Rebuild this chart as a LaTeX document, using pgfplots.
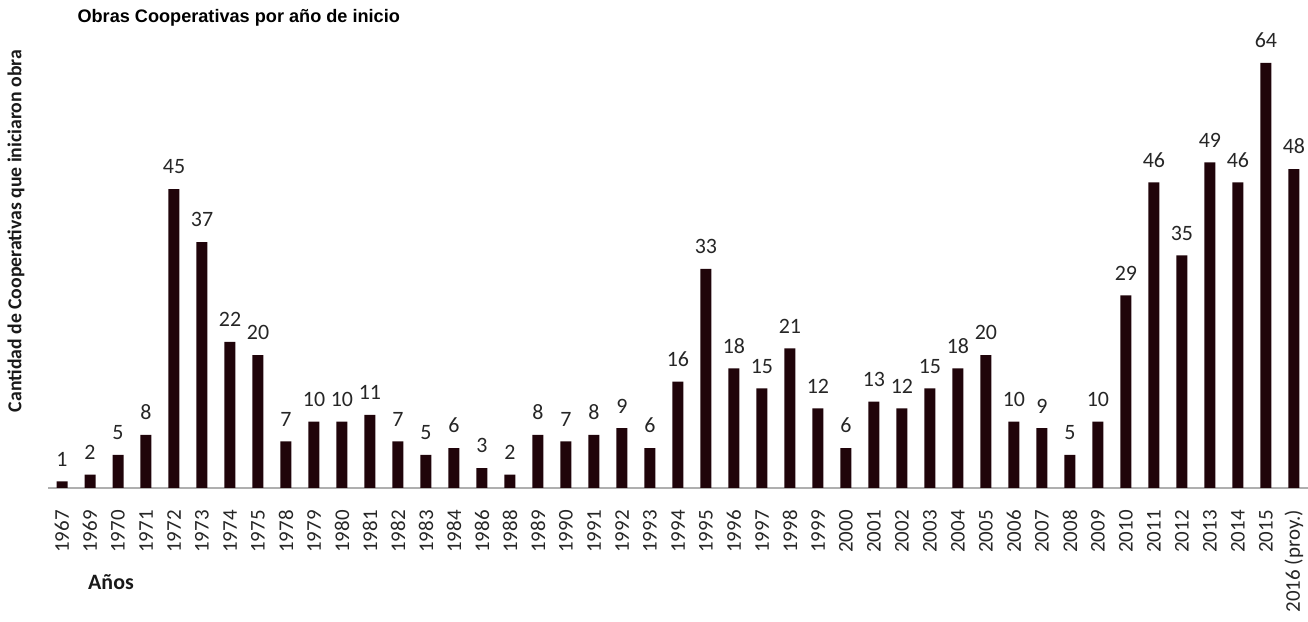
\documentclass[border=0pt]{standalone}
\usepackage{pgfplots}
\pgfplotsset{compat=1.18}
\usepackage{fontspec}
\setmainfont{Carlito}
\newfontfamily\titlefont{Liberation Sans}
\definecolor{barcol}{RGB}{32,4,10}
\definecolor{axisgray}{RGB}{175,175,175}

\begin{document}
\begin{tikzpicture}[x=1bp,y=1bp]
\useasboundingbox (0,0) rectangle (1308,622);

% Title and axis titles
\node[anchor=west, font=\titlefont\bfseries\fontsize{18.2}{21}\selectfont] at (74,604) {Obras Cooperativas por año de inicio};
\node[rotate=90, font=\bfseries\fontsize{19.8}{23}\selectfont, text=black!90] at (16,391) {Cantidad de Cooperativas que iniciaron obra};
\node[anchor=west, inner sep=0pt, font=\bfseries\fontsize{22}{25}\selectfont, text=black!90] at (88,40) {Años};

\begin{axis}[
  at={(48bp,134bp)}, anchor=south west,
  scale only axis, width=1260bp, height=465bp,
  xmin=-0.5, xmax=44.5, ymin=0, ymax=70,
  axis y line=none,
  axis x line*=bottom,
  x axis line style={draw=axisgray, line width=2.5bp, -},
  xtick=data,
  xticklabels={1967,1969,1970,1971,1972,1973,1974,1975,1978,1979,1980,1981,1982,1983,1984,1986,1988,1989,1990,1991,1992,1993,1994,1995,1996,1997,1998,1999,2000,2001,2002,2003,2004,2005,2006,2007,2008,2009,2010,2011,2012,2013,2014,2015,2016 (proy.)},
  major tick length=0pt,
  xticklabel shift=22bp,
  xticklabel style={rotate=90, anchor=east, inner sep=0pt, font=\fontsize{21}{23}\selectfont, text=black!85},
  ybar, bar width=11bp,
  clip=false,
  /pgf/number format/assume math mode=true,
  nodes near coords,
  every node near coord/.append style={font=\fontsize{22}{25}\selectfont, text=black!85, inner sep=0pt, yshift=15bp, anchor=south},
]
\addplot[fill=barcol, draw=none, bar shift=0pt] coordinates {
 (0,1) (1,2) (2,5) (3,8) (4,45) (5,37) (6,22) (7,20) (8,7) (9,10)
 (10,10) (11,11) (12,7) (13,5) (14,6) (15,3) (16,2) (17,8) (18,7) (19,8)
 (20,9) (21,6) (22,16) (23,33) (24,18) (25,15) (26,21) (27,12) (28,6) (29,13)
 (30,12) (31,15) (32,18) (33,20) (34,10) (35,9) (36,5) (37,10) (38,29) (39,46)
 (40,35) (41,49) (42,46) (43,64) (44,48)
};
\end{axis}
\end{tikzpicture}
\end{document}
